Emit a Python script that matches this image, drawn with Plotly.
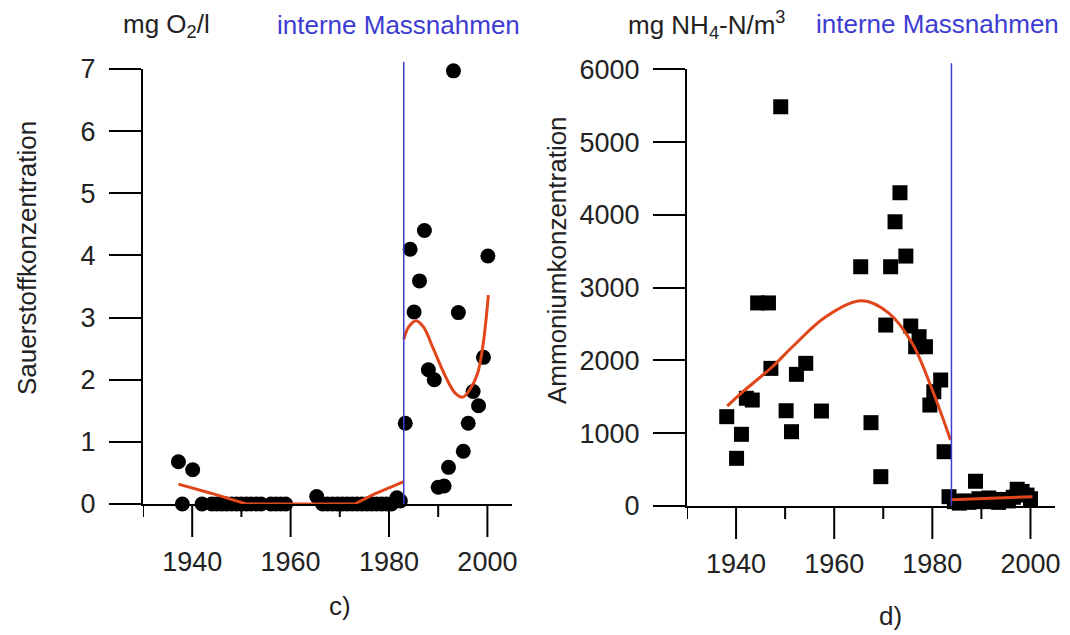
import plotly.graph_objects as go

# ---------------- data: panel c) oxygen ----------------
o2_years = [1937.2, 1938.0, 1940.1, 1942.0, 1944.0, 1945.0, 1946.0, 1947.0, 1948.0, 1949.0,
            1950.0, 1951.0, 1952.0, 1953.0, 1954.0, 1956.0, 1957.0, 1958.0, 1959.0,
            1965.3, 1966.5, 1967.5, 1968.5, 1969.5, 1970.5, 1971.5, 1972.5, 1973.5, 1974.5,
            1975.5, 1976.5, 1977.5, 1978.5, 1979.5, 1980.5, 1981.6, 1982.3,
            1983.3, 1984.3, 1985.1, 1986.2, 1987.2, 1988.0, 1989.2, 1990.0, 1991.2, 1992.1,
            1993.1, 1994.1, 1995.1, 1996.1, 1997.1, 1998.2, 1999.2, 2000.1]
o2_values = [0.68, 0.0, 0.55, 0.0, 0.0, 0.0, 0.0, 0.0, 0.0, 0.0,
             0.0, 0.0, 0.0, 0.0, 0.0, 0.0, 0.0, 0.0, 0.0,
             0.12, 0.0, 0.0, 0.0, 0.0, 0.0, 0.0, 0.0, 0.0, 0.0,
             0.0, 0.0, 0.0, 0.0, 0.0, 0.0, 0.1, 0.05,
             1.3, 4.1, 3.09, 3.59, 4.4, 2.16, 2.0, 0.27, 0.29, 0.59,
             6.97, 3.08, 0.85, 1.3, 1.81, 1.58, 2.36, 3.99]
o2_fit_pre_years = [1937.2, 1944.0, 1951.0, 1973.0, 1977.0, 1983.0]
o2_fit_pre_values = [0.32, 0.17, 0.0, 0.0, 0.16, 0.36]
o2_fit_post_years = [1983.0, 1984.0, 1985.5, 1987.0, 1989.0, 1991.5, 1993.5, 1995.0, 1996.5, 1998.0, 1999.1, 2000.2]
o2_fit_post_values = [2.65, 2.85, 2.95, 2.85, 2.5, 2.05, 1.78, 1.72, 1.85, 2.1, 2.55, 3.36]

# ---------------- data: panel d) ammonium ----------------
nh4_years = [1938.1, 1940.1, 1941.1, 1942.1, 1943.3, 1944.4, 1946.6, 1947.1, 1949.1, 1950.2,
             1951.3, 1952.3, 1954.2, 1957.4, 1965.4, 1967.5, 1969.5, 1970.5, 1971.5, 1972.4,
             1973.4, 1974.6, 1975.6, 1976.6, 1977.3, 1978.6, 1979.5, 1980.3, 1981.7, 1982.4,
             1983.4, 1984.5, 1985.5, 1986.5, 1987.5, 1988.8, 1989.5, 1990.5, 1991.5, 1992.5,
             1993.5, 1994.5, 1995.5, 1996.5, 1997.3, 1998.3, 1999.3, 2000.0]
nh4_values = [1227, 655, 985, 1480, 1456, 2790, 2790, 1891, 5485, 1309,
              1021, 1809, 1960, 1305, 3287, 1145, 403, 2486, 3287, 3905,
              4304, 3434, 2473, 2188, 2326, 2188, 1387, 1570, 1731, 746,
              128, 60, 40, 70, 50, 340, 100, 60, 110, 80,
              50, 90, 70, 120, 230, 200, 150, 100]
nh4_fit_pre_years = [1938.2, 1940.6, 1947.4, 1951.5, 1958.3, 1965.7, 1971.2, 1975.9, 1980.0, 1983.7]
nh4_fit_pre_values = [1373, 1525, 1913, 2188, 2600, 2820, 2647, 2235, 1593, 907]
nh4_fit_post_years = [1983.7, 1992.0, 2000.4]
nh4_fit_post_values = [85, 105, 128]

measures_year_c = 1983.0
measures_year_d = 1983.9

major_ticks = [1940, 1960, 1980, 2000]
minor_ticks = [1930, 1950, 1970, 1990]
o2_ticks = [0, 1, 2, 3, 4, 5, 6, 7]
nh4_ticks = [0, 1000, 2000, 3000, 4000, 5000, 6000]

FONT = "Liberation Sans, Arial, sans-serif"
ORANGE = "#e0461a"
BLUE = "#3c3cd2"
W, H = 1070, 635
X_RANGE = [1930, 2005]
MAJOR_LEN, MINOR_LEN = 33, 13

# panel geometry (pixels)
C_LEFT, C_RIGHT, C_TOP, C_BOTTOM = 143, 512, 69, 504
D_LEFT, D_RIGHT, D_TOP, D_BOTTOM = 687, 1055, 69.3, 506

fig = go.Figure()

fig.add_trace(go.Scatter(x=o2_years, y=o2_values, mode="markers", xaxis="x", yaxis="y",
                         marker=dict(symbol="circle", size=15, color="black"), cliponaxis=False))
fig.add_trace(go.Scatter(x=o2_fit_pre_years, y=o2_fit_pre_values, mode="lines", xaxis="x", yaxis="y",
                         line=dict(color=ORANGE, width=3), cliponaxis=False))
fig.add_trace(go.Scatter(x=o2_fit_post_years, y=o2_fit_post_values, mode="lines", xaxis="x", yaxis="y",
                         line=dict(color=ORANGE, width=3, shape="spline"), cliponaxis=False))

fig.add_trace(go.Scatter(x=nh4_years, y=nh4_values, mode="markers", xaxis="x2", yaxis="y2",
                         marker=dict(symbol="square", size=15, color="black"), cliponaxis=False))
fig.add_trace(go.Scatter(x=nh4_fit_pre_years, y=nh4_fit_pre_values, mode="lines", xaxis="x2", yaxis="y2",
                         line=dict(color=ORANGE, width=3, shape="spline"), cliponaxis=False))
fig.add_trace(go.Scatter(x=nh4_fit_post_years, y=nh4_fit_post_values, mode="lines", xaxis="x2", yaxis="y2",
                         line=dict(color=ORANGE, width=3, shape="spline"), cliponaxis=False))

tickfont = dict(family=FONT, size=27, color="#222")

def xax(domain, anchor):
    # tick marks themselves are drawn as shapes below (long at labelled years, short between)
    return dict(domain=domain, range=X_RANGE, showgrid=False, zeroline=False,
                automargin=False, anchor=anchor,
                showline=True, linecolor="black", linewidth=2,
                tickmode="array", tickvals=major_ticks,
                ticks="outside", ticklen=MAJOR_LEN, tickwidth=2, tickcolor="rgba(0,0,0,0)",
                tickfont=tickfont)

def yax(domain, rng, vals, anchor):
    return dict(domain=domain, range=rng, showgrid=False, zeroline=False, anchor=anchor,
                automargin=False,
                showline=True, linecolor="black", linewidth=2,
                tickmode="array", tickvals=vals, ticks="outside", ticklen=32,
                tickwidth=2, tickcolor="black", tickfont=tickfont, ticklabelstandoff=8)

fig.update_layout(
    template="none",
    width=W, height=H, margin=dict(l=0, r=0, t=0, b=0, autoexpand=False),
    paper_bgcolor="white", plot_bgcolor="white", showlegend=False,
    xaxis=xax([C_LEFT / W, C_RIGHT / W], "y"),
    yaxis=yax([1 - C_BOTTOM / H, 1 - C_TOP / H], [0, 7], o2_ticks, "x"),
    xaxis2=xax([D_LEFT / W, D_RIGHT / W], "y2"),
    yaxis2=yax([1 - D_BOTTOM / H, 1 - D_TOP / H], [0, 6000], nh4_ticks, "x2"),
)

# x tick marks
for xref, bottom in [("x", C_BOTTOM), ("x2", D_BOTTOM)]:
    for vals, ln in [(major_ticks, MAJOR_LEN), (minor_ticks, MINOR_LEN)]:
        for v in vals:
            fig.add_shape(type="line", xref=xref, yref="paper", x0=v, x1=v,
                          y0=1 - bottom / H, y1=1 - (bottom + ln) / H,
                          line=dict(color="black", width=2), layer="above")

# intervention lines
fig.add_shape(type="line", xref="x", yref="y domain", x0=measures_year_c, x1=measures_year_c,
              y0=0, y1=1.016, line=dict(color=BLUE, width=1.5))
fig.add_shape(type="line", xref="x2", yref="y2 domain", x0=measures_year_d, x1=measures_year_d,
              y0=0, y1=1.014, line=dict(color=BLUE, width=1.5))

def ann(text, x, y, size=26, color="#222", angle=0):
    fig.add_annotation(text=text, x=x / W, y=1 - y / H, xref="paper", yref="paper",
                       showarrow=False, textangle=angle, xanchor="center", yanchor="middle",
                       font=dict(family=FONT, size=size, color=color))

ann("mg O<sub>2</sub>/l", 166, 25)
ann("interne Massnahmen", 398, 25, color=BLUE)
ann("mg NH<sub>4</sub>-N/m<sup>3</sup>", 706, 25)
ann("interne Massnahmen", 937, 24, color=BLUE)
ann("Sauerstoffkonzentration", 27, 258, size=26, angle=-90)
ann("Ammoniumkonzentration", 557, 260, size=26, angle=-90)
ann("c)", 340, 606, size=26)
ann("d)", 890, 616, size=26)

fig.write_html("out.html")
